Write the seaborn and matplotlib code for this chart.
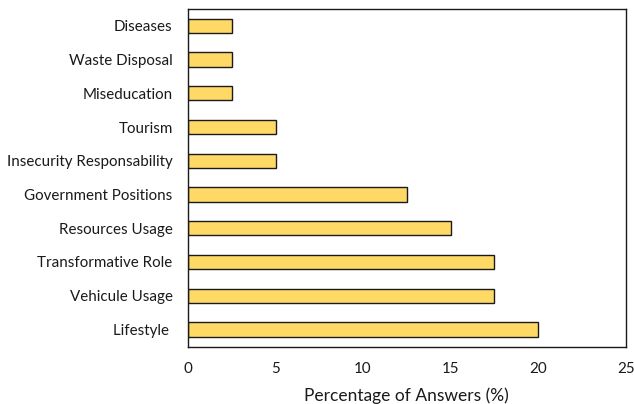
import matplotlib
matplotlib.use("Agg")
import matplotlib.pyplot as plt
import seaborn as sns
import pandas as pd

categories = ["Diseases", "Waste Disposal", "Miseducation", "Tourism",
              "Insecurity Responsability", "Government Positions",
              "Resources Usage", "Transformative Role", "Vehicule Usage",
              "Lifestyle "]
percentages = [2.5, 2.5, 2.5, 5, 5, 12.5, 15, 17.5, 17.5, 20]
x_ticks = [0, 5, 10, 15, 20, 25]

sns.set_theme(style="white")
plt.rcParams["font.family"] = ["Lato", "DejaVu Sans"]

df = pd.DataFrame({"category": categories, "pct": percentages})

fig = plt.figure(figsize=(6.34, 4.04), dpi=100)
ax = fig.add_axes([0.2965, 0.141, 0.6905, 0.837])

sns.barplot(data=df, x="pct", y="category", orient="h", color="#FFD966",
            saturation=1, width=0.42, edgecolor="#1a1a1a", linewidth=1.0, ax=ax)

ax.set_xlim(0, 25)
ax.set_ylim(9.52, -0.5)
ax.set_xticks(x_ticks)
ax.set_xticklabels([str(t) for t in x_ticks])
ax.tick_params(axis="both", length=0, labelsize=10.9, colors="#1a1a1a")
ax.tick_params(axis="y", pad=11)
ax.tick_params(axis="x", pad=11)
ax.set_ylabel("")
ax.set_xlabel("Percentage of Answers (%)", fontsize=12.5, color="#1a1a1a", labelpad=8)
for s in ax.spines.values():
    s.set_visible(True)
    s.set_color("#1a1a1a")
    s.set_linewidth(1.0)

fig.savefig("out.png", dpi=100)
